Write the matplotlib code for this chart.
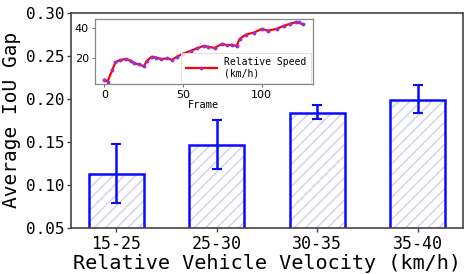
import matplotlib
matplotlib.use('Agg')
import matplotlib.pyplot as plt
import numpy as np

# main bar data
groups = ['15-25', '25-30', '30-35', '35-40']
gap_mean = [0.113, 0.146, 0.184, 0.199]
gap_low = [0.079, 0.118, 0.176, 0.183]
gap_high = [0.147, 0.175, 0.193, 0.216]

# inset: relative speed over frames
frames = [0, 2, 5, 7, 10, 14, 17, 19, 22, 25, 27, 30, 33, 36, 40, 43, 46, 50,
          55, 59, 63, 66, 70, 75, 78, 81, 84, 86, 90, 95, 100, 104, 110, 114,
          118, 122, 124, 126]
speed = [6.0, 4.8, 12.5, 17.4, 19.0, 19.6, 18.3, 16.8, 16.1, 14.8, 18.5, 21.1,
         20.6, 19.6, 20.0, 19.1, 21.1, 23.2, 25.0, 26.7, 28.2, 27.7, 26.9, 29.7,
         28.6, 29.0, 28.2, 32.9, 35.7, 37.0, 39.4, 38.3, 39.6, 41.5, 42.8, 44.0,
         43.7, 42.4]

mono = 'DejaVu Sans Mono'

fig = plt.figure(figsize=(4.68, 2.74), dpi=100)
ax = fig.add_axes([0.1517, 0.168, 0.8376, 0.7856])

x = np.arange(len(groups))
mean = np.array(gap_mean)
yerr = [mean - np.array(gap_low), np.array(gap_high) - mean]

ax.bar(x, gap_mean, width=0.55, color='white', edgecolor='#cfcff6',
       hatch='///', linewidth=0)
ax.bar(x, gap_mean, width=0.55, fill=False, edgecolor='#0a0aff', linewidth=1.8)
ax.errorbar(x, gap_mean, yerr=yerr, fmt='none', ecolor='#0a0aff',
            elinewidth=1.8, capsize=3.5, capthick=1.5)

ax.set_ylim(0.05, 0.30)
ax.set_yticks([0.05, 0.10, 0.15, 0.20, 0.25, 0.30])
ax.set_yticklabels(['0.05', '0.10', '0.15', '0.20', '0.25', '0.30'],
                   fontsize=11.5, family=mono)
ax.set_xticks(x)
ax.set_xticklabels(groups, fontsize=12, family=mono)
ax.set_xlabel('Relative Vehicle Velocity (km/h)', fontsize=14.5, family=mono,
              labelpad=1)
ax.set_ylabel('Average IoU Gap', fontsize=14, family=mono, labelpad=3)
for s in ax.spines.values():
    s.set_color('#444444')
    s.set_linewidth(1.2)
ax.tick_params(length=3, width=1, color='#444444', pad=2)

# inset
ins = fig.add_axes([94.5 / 468, 1 - 84.5 / 274, 218 / 468, 65.5 / 274])
ins.plot(frames, speed, color='red', linewidth=1.6, marker='o', markersize=1.8,
         markerfacecolor='#9a30d0', markeredgecolor='#9a30d0',
         label='Relative Speed\n(km/h)')
ins.set_xticks([0, 50, 100])
ins.set_yticks([20, 40])
ins.tick_params(labelsize=8, length=2.5, width=0.8, color='#777777', pad=1.5)
ins.set_xlabel('Frame', fontsize=7.5, family=mono, labelpad=0)
for s in ins.spines.values():
    s.set_color('#888888')
    s.set_linewidth(0.9)
leg = ins.legend(loc='lower right', prop={'family': mono, 'size': 7},
                 handlelength=3.2, borderpad=0.45, labelspacing=0.15,
                 handletextpad=0.8, borderaxespad=0.15, fancybox=False)
leg.get_frame().set_edgecolor('#dddddd')
leg.get_frame().set_linewidth(0.8)

fig.savefig('out.png', dpi=100)
